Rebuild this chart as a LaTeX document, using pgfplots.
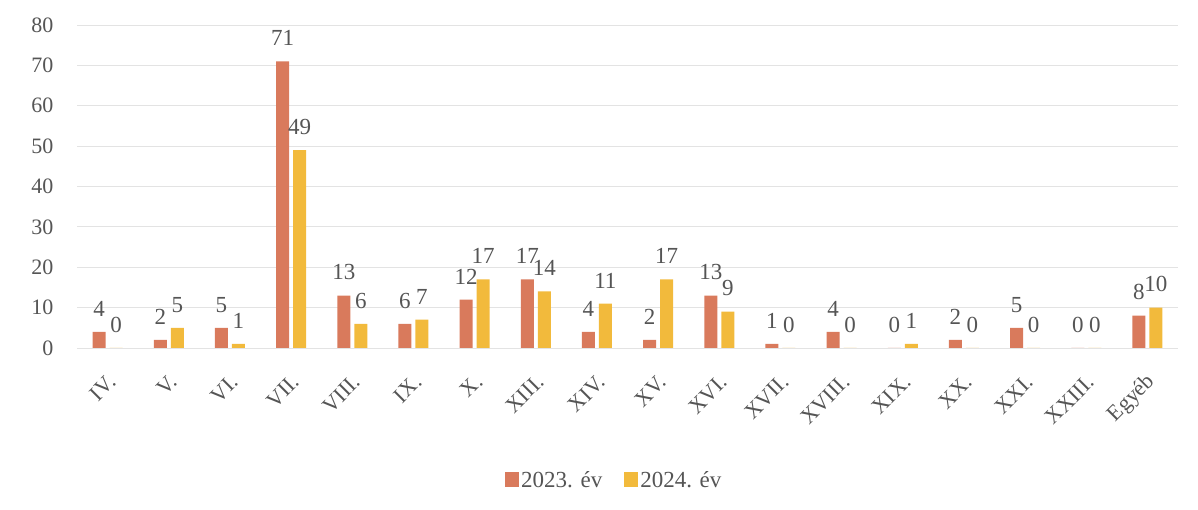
\documentclass[border=0pt]{standalone}
\usepackage{pgfplots}
\pgfplotsset{compat=1.18}
\usepackage{fontspec}
\setmainfont{Liberation Serif}
\definecolor{c23}{RGB}{217,122,92}
\definecolor{c24}{RGB}{242,186,60}
\definecolor{txt}{RGB}{85,85,85}
\begin{document}
\begin{tikzpicture}
\useasboundingbox (0,0) rectangle (1198pt,510pt);
\begin{axis}[
    at={(77pt,162pt)}, anchor=south west,
    width=1101pt, height=323pt, scale only axis,
    ybar=4pt, bar width=13pt,
    ymin=0, ymax=80, xmin=-0.5, xmax=17.5,
    ytick={0,10,...,80},
    xtick={0,...,17},
    xticklabels={IV.,V.,VI.,VII.,VIII.,IX.,X.,XIII.,XIV.,XV.,XVI.,XVII.,XVIII.,XIX.,XX.,XXI.,XXIII.,Egyéb},
    axis line style={draw=none}, major tick style={draw=none},
    ymajorgrids, grid style={gray!22, line width=0.8pt},
    /pgf/number format/assume math mode=true,
    yticklabel style={font=\fontsize{22}{22}\selectfont, text=txt, xshift=-20pt},
    xticklabel style={font=\fontsize{22}{22}\selectfont, text=txt, xshift=7pt, yshift=-24pt, rotate=45, anchor=east},
    nodes near coords,
    nodes near coords style={font=\fontsize{23}{23}\selectfont, text=txt, yshift=12pt},
    legend style={at={(0.488,-0.409)}, anchor=center, draw=none, legend columns=2,
        font=\fontsize{23}{23}\selectfont, text=txt,
        /tikz/every even column/.append style={column sep=20pt}},
    legend image code/.code={\fill[#1] (0pt,-7pt) rectangle (14pt,8pt);},
]
\addplot[fill=c23, draw=none] coordinates {
(0,4) (1,2) (2,5) (3,71) (4,13) (5,6) (6,12) (7,17) (8,4) (9,2)
(10,13) (11,1) (12,4) (13,0) (14,2) (15,5) (16,0) (17,8)};
\addplot[fill=c24, draw=none] coordinates {
(0,0) (1,5) (2,1) (3,49) (4,6) (5,7) (6,17) (7,14) (8,11) (9,17)
(10,9) (11,0) (12,0) (13,1) (14,0) (15,0) (16,0) (17,10)};
\legend{2023. év, 2024. év}
\end{axis}
\end{tikzpicture}
\end{document}
